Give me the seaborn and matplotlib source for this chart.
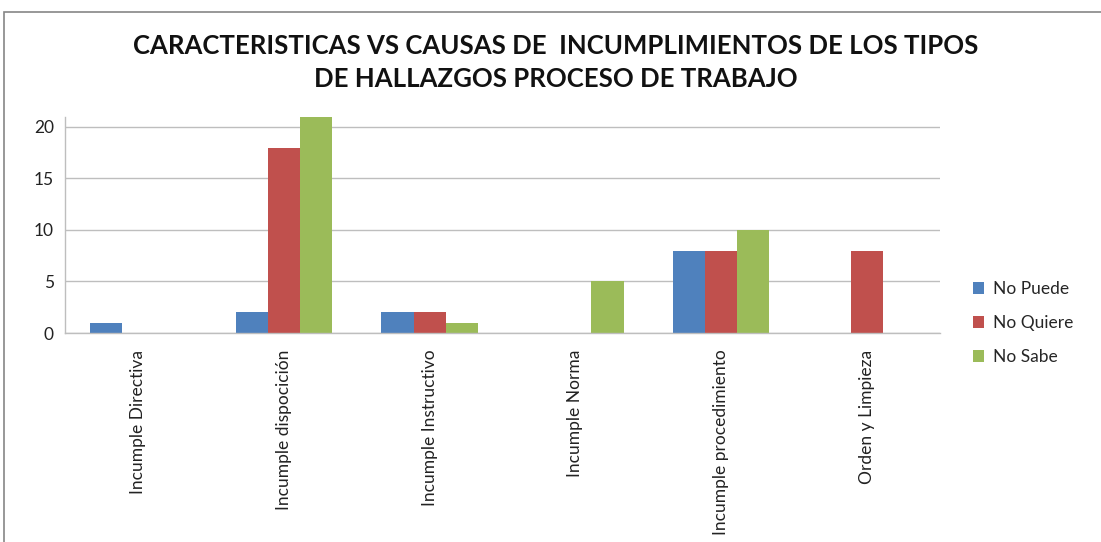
import matplotlib
matplotlib.use("Agg")
import matplotlib.pyplot as plt
import pandas as pd
import seaborn as sns
from matplotlib.patches import Rectangle

# ── Data ─────────────────────────────────────────────
categorias = [
    "Incumple Directiva",
    "Incumple dispocición",
    "Incumple Instructivo",
    "Incumple Norma",
    "Incumple procedimiento",
    "Orden y Limpieza",
]
causas = ["No Puede", "No Quiere", "No Sabe"]
no_puede  = [1, 2, 2, 0, 8, 0]
no_quiere = [0, 18, 2, 0, 8, 8]
no_sabe   = [0, 21, 1, 5, 10, 0]
y_ticks = [0, 5, 10, 15, 20]

TITLE = ("CARACTERISTICAS VS CAUSAS DE  INCUMPLIMIENTOS DE LOS TIPOS\n"
         "DE HALLAZGOS PROCESO DE TRABAJO")

colores = ["#4F81BD", "#C0504D", "#9BBB59"]

rows = []
for serie, vals in zip(causas, [no_puede, no_quiere, no_sabe]):
    for cat, v in zip(categorias, vals):
        rows.append({"categoria": cat, "causa": serie, "valor": v})
df = pd.DataFrame(rows)

sns.set_style("white")
plt.rcParams["font.family"] = ["Lato", "DejaVu Sans"]

fig = plt.figure(figsize=(11.01, 5.42), dpi=100)
fig.patch.set_facecolor("white")

# outer chart frame
fig.add_artist(Rectangle((4 / 1101, -0.01), 1.1, 1 - 12 / 542 + 0.01,
                         transform=fig.transFigure, fill=False,
                         edgecolor="#868686", linewidth=1.2))

ax = fig.add_axes([65 / 1101, 1 - 333 / 542, 875 / 1101, 216 / 542])

sns.barplot(data=df, x="categoria", y="valor", hue="causa",
            order=categorias, hue_order=causas, palette=colores,
            width=0.66, saturation=1, errorbar=None, linewidth=0, ax=ax)

ax.set_ylim(0, 20.97)
ax.set_xlim(-0.5, len(categorias) - 0.5)
ax.set_yticks(y_ticks)
ax.set_yticklabels([str(t) for t in y_ticks], fontsize=12.5, color="#222222")
ax.set_xticks(range(len(categorias)))
ax.set_xticklabels(categorias, rotation=90, fontsize=12.5, color="#222222")
ax.tick_params(axis="both", length=0, pad=8)
ax.tick_params(axis="x", pad=12)
ax.set_xlabel("")
ax.set_ylabel("")
ax.grid(axis="y", color="#BEBEBE", linewidth=1)
ax.set_axisbelow(True)
for s in ["top", "right"]:
    ax.spines[s].set_visible(False)
for s in ["left", "bottom"]:
    ax.spines[s].set_color("#BEBEBE")
    ax.spines[s].set_linewidth(1)

handles, labels = ax.get_legend_handles_labels()
ax.legend(handles, labels, loc="center left", bbox_to_anchor=(1.02, 0.046),
          frameon=False, fontsize=12.5, handlelength=0.65, handleheight=0.65,
          labelspacing=1.05, handletextpad=0.5)

fig.text(0.505, 1 - 62.5 / 542, TITLE, ha="center", va="center",
         fontsize=18.5, fontweight="bold", linespacing=1.48, color="#111111")

fig.savefig("out.png", dpi=100, facecolor="white")
